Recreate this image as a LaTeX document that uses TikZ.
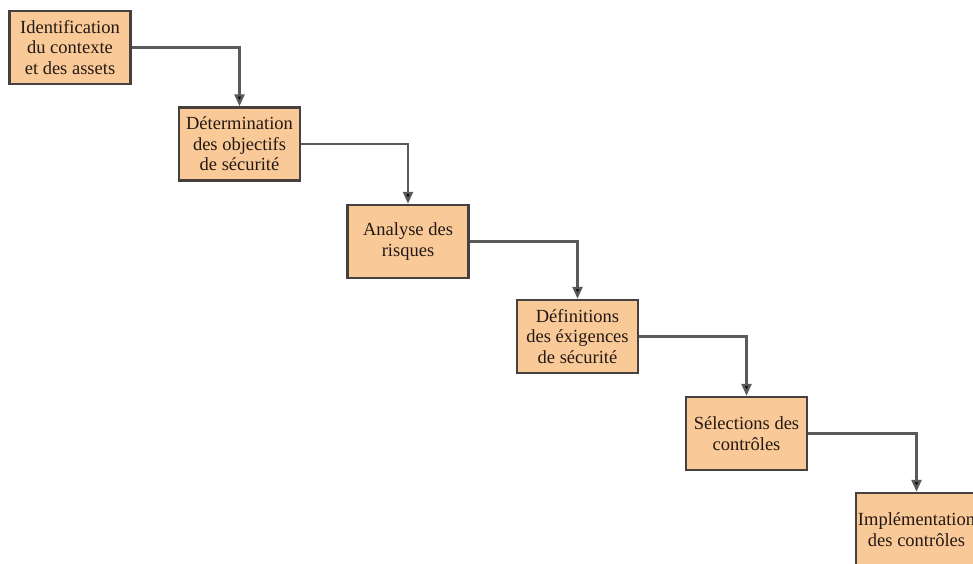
\documentclass[tikz,border=0pt]{standalone}
\usepackage{fontspec}
\setmainfont{Liberation Serif}
\usetikzlibrary{arrows.meta}
\definecolor{boxfill}{RGB}{250,201,152}
\definecolor{boxline}{RGB}{70,65,62}
\definecolor{linkgray}{RGB}{90,90,90}
\definecolor{boxtext}{RGB}{35,25,20}
\tikzset{
  stepbox/.style={draw=boxline, line width=2.4pt, fill=boxfill,
    minimum width=121pt, minimum height=73pt, inner sep=1pt,
    align=center, text=boxtext,
    font=\fontsize{18.5}{20.5}\selectfont},
  link/.style={draw=linkgray, line width=2.4pt,
    -{Triangle[width=10pt,length=12pt,fill=black]}}
}
\begin{document}
\begin{tikzpicture}[x=1pt,y=-1pt]
  \useasboundingbox (0,0) rectangle (973,563);
  \clip (0,0) rectangle (973,563);
  \node[stepbox] (s1) at (70,47.5)    {Identification\\du contexte\\et des assets};
  \node[stepbox] (s2) at (239.5,144)  {Détermination\\des objectifs\\de sécurité};
  \node[stepbox] (s3) at (408,241.5)  {Analyse des\\risques};
  \node[stepbox] (s4) at (577.5,336.5){Définitions\\des éxigences\\de sécurité};
  \node[stepbox] (s5) at (746.5,433.5){Sélections des\\contrôles};
  \node[stepbox] (s6) at (916.5,529.5){Implémentation\\des contrôles};
  \draw[link] (s1.east) -| (s2.north);
  \draw[link] (s2.east) -| (s3.north);
  \draw[link] (s3.east) -| (s4.north);
  \draw[link] (s4.east) -| (s5.north);
  \draw[link] (s5.east) -| (s6.north);
\end{tikzpicture}
\end{document}
